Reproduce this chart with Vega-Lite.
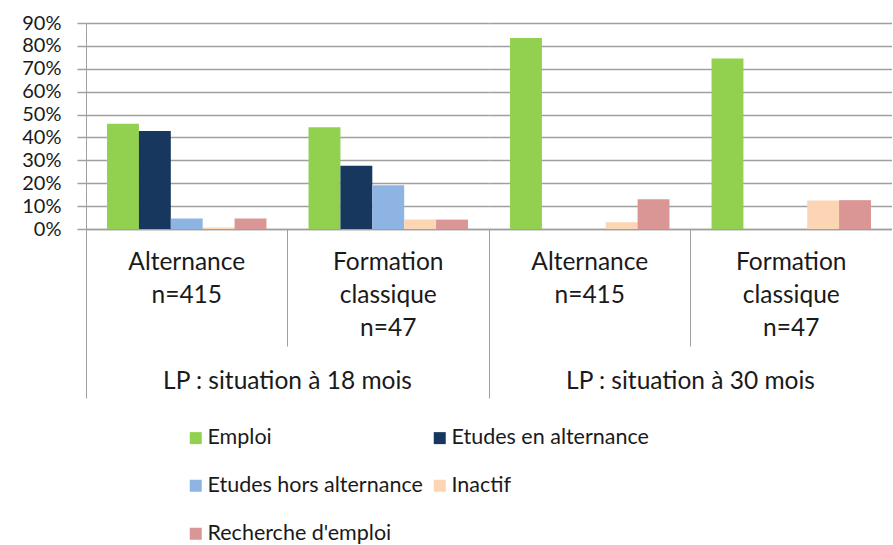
{
  "$schema": "https://vega.github.io/schema/vega-lite/v6.json",
  "background": "white",
  "padding": {"left": 21, "top": 13, "right": 0, "bottom": 0},
  "config": {
    "font": "Lato",
    "view": {"stroke": null},
    "axis": {"labelFont": "Lato", "labelColor": "#1a1a1a", "titleFont": "Lato"},
    "header": {"labelFont": "Lato"},
    "legend": {"labelFont": "Lato"}
  },
  "data": {
    "values": [
      {"periode": "LP : situation à 18 mois", "formation": "Alternance|n=415", "statut": "Emploi", "valeur": 0.46},
      {"periode": "LP : situation à 18 mois", "formation": "Alternance|n=415", "statut": "Etudes en alternance", "valeur": 0.428},
      {"periode": "LP : situation à 18 mois", "formation": "Alternance|n=415", "statut": "Etudes hors alternance", "valeur": 0.046},
      {"periode": "LP : situation à 18 mois", "formation": "Alternance|n=415", "statut": "Inactif", "valeur": 0.007},
      {"periode": "LP : situation à 18 mois", "formation": "Alternance|n=415", "statut": "Recherche d'emploi", "valeur": 0.046},
      {"periode": "LP : situation à 18 mois", "formation": "Formation|classique|n=47", "statut": "Emploi", "valeur": 0.445},
      {"periode": "LP : situation à 18 mois", "formation": "Formation|classique|n=47", "statut": "Etudes en alternance", "valeur": 0.276},
      {"periode": "LP : situation à 18 mois", "formation": "Formation|classique|n=47", "statut": "Etudes hors alternance", "valeur": 0.191},
      {"periode": "LP : situation à 18 mois", "formation": "Formation|classique|n=47", "statut": "Inactif", "valeur": 0.041},
      {"periode": "LP : situation à 18 mois", "formation": "Formation|classique|n=47", "statut": "Recherche d'emploi", "valeur": 0.041},
      {"periode": "LP : situation à 30 mois", "formation": "Alternance|n=415", "statut": "Emploi", "valeur": 0.835},
      {"periode": "LP : situation à 30 mois", "formation": "Alternance|n=415", "statut": "Etudes en alternance", "valeur": 0},
      {"periode": "LP : situation à 30 mois", "formation": "Alternance|n=415", "statut": "Etudes hors alternance", "valeur": 0},
      {"periode": "LP : situation à 30 mois", "formation": "Alternance|n=415", "statut": "Inactif", "valeur": 0.03},
      {"periode": "LP : situation à 30 mois", "formation": "Alternance|n=415", "statut": "Recherche d'emploi", "valeur": 0.13},
      {"periode": "LP : situation à 30 mois", "formation": "Formation|classique|n=47", "statut": "Emploi", "valeur": 0.745},
      {"periode": "LP : situation à 30 mois", "formation": "Formation|classique|n=47", "statut": "Etudes en alternance", "valeur": 0},
      {"periode": "LP : situation à 30 mois", "formation": "Formation|classique|n=47", "statut": "Etudes hors alternance", "valeur": 0},
      {"periode": "LP : situation à 30 mois", "formation": "Formation|classique|n=47", "statut": "Inactif", "valeur": 0.125},
      {"periode": "LP : situation à 30 mois", "formation": "Formation|classique|n=47", "statut": "Recherche d'emploi", "valeur": 0.126}
    ]
  },
  "facet": {
    "column": {
      "field": "periode",
      "type": "nominal",
      "title": null,
      "header": {
        "labelOrient": "bottom",
        "labelFontSize": 24.5,
        "labelColor": "#1a1a1a",
        "labelPadding": -29,
        "labelBaseline": "top"
      }
    }
  },
  "spacing": 0,
  "spec": {
    "width": 403,
    "height": 206,
    "mark": {"type": "bar"},
    "encoding": {
      "x": {
        "field": "formation",
        "type": "nominal",
        "sort": null,
        "title": null,
        "scale": {"paddingInner": 0, "paddingOuter": 0},
        "axis": {
          "bandPosition": 0,
          "labelAngle": 0,
          "labelExpr": "split(datum.label, '|')",
          "labelFontSize": 24.5,
          "labelLineHeight": 33,
          "labelBaseline": "top",
          "labelAlign": "center",
          "labelBound": false,
          "labelOverlap": false,
          "tickSize": {"expr": "indexof(datum.value, 'Alternance') == 0 ? 169 : 117"},
          "labelPadding": {"expr": "indexof(datum.value, 'Alternance') == 0 ? -148 : -96"},
          "tickColor": "#a0a0a0",
          "tickWidth": 1,
          "domainColor": "#a0a0a0",
          "domainWidth": 1.5
        }
      },
      "xOffset": {
        "field": "statut",
        "type": "nominal",
        "scale": {"paddingInner": 0, "paddingOuter": 0.66}
      },
      "y": {
        "field": "valeur",
        "type": "quantitative",
        "title": null,
        "scale": {"domain": [0, 0.9], "nice": false},
        "axis": {
          "format": ".0%",
          "values": [0, 0.1, 0.2, 0.3, 0.4, 0.5, 0.6, 0.7, 0.8, 0.9],
          "labelOverlap": false,
          "labelFontSize": 20,
          "labelPadding": 16,
          "tickSize": 9,
          "tickColor": "#a0a0a0",
          "tickWidth": 1.5,
          "gridColor": "#a0a0a0",
          "gridWidth": 1.6,
          "domainColor": "#a0a0a0",
          "domainWidth": 1
        }
      },
      "color": {
        "field": "statut",
        "type": "nominal",
        "scale": {
          "domain": ["Emploi", "Etudes en alternance", "Etudes hors alternance", "Inactif", "Recherche d'emploi"],
          "range": ["#92d050", "#17375e", "#8db4e2", "#fcd5b5", "#da9694"]
        },
        "legend": {
          "title": null,
          "orient": "none",
          "direction": "horizontal",
          "legendX": 99,
          "legendY": 404,
          "columns": 2,
          "columnPadding": 6,
          "rowPadding": 25,
          "symbolType": "square",
          "symbolSize": 144,
          "symbolStrokeWidth": 0,
          "labelFontSize": 21.5,
          "labelColor": "#1a1a1a",
          "labelOffset": 1,
          "labelLimit": 400
        }
      }
    }
  }
}
